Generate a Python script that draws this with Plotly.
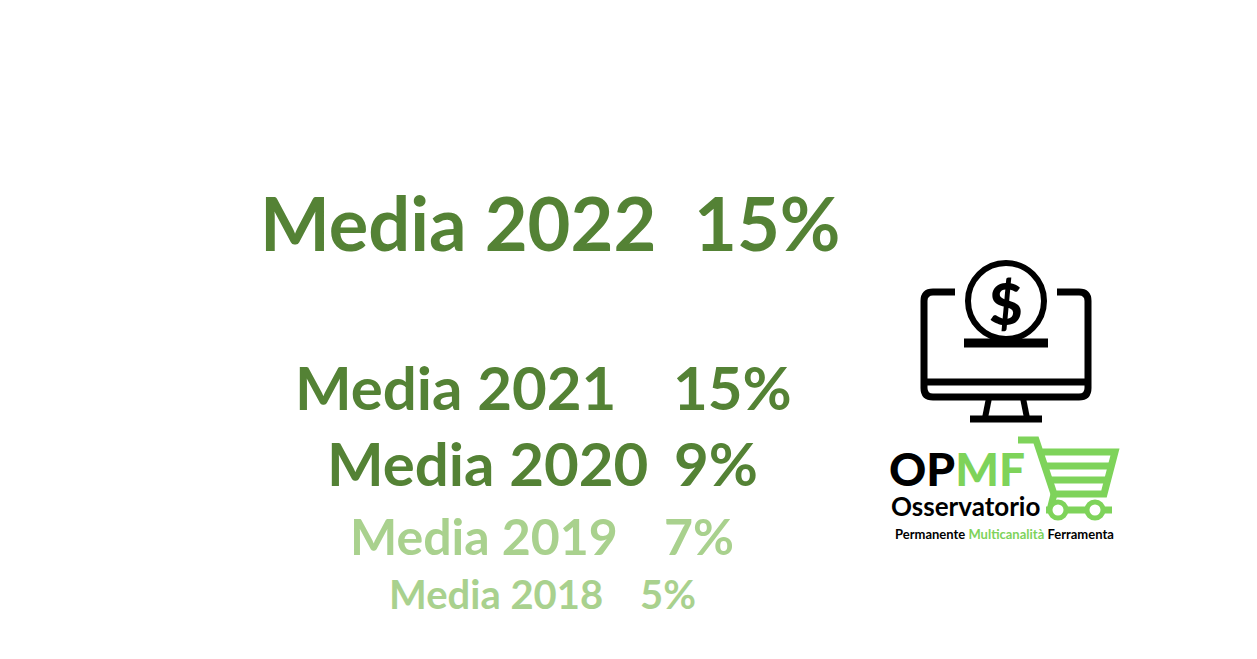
import plotly.graph_objects as go

# ---- data ----
years = [2022, 2021, 2020, 2019, 2018]
values = [15, 15, 9, 7, 5]
labels = [f"Media {y}" for y in years]
value_labels = [f"{v}%" for v in values]

# ---- layout / style (positions in screenshot pixel space) ----
W, H = 1257, 659
PAD = 8  # page body margin
DARK = "#548235"
LIGHT = "#A9D18E"
LOGO_GREEN = "#7ED35A"
FONT = "Lato"

label_x = [258, 293, 325, 348, 387]
value_x = [692, 671, 672, 662, 638]
row_y = [222, 387, 463, 536, 594]
sizes = [74, 60, 60, 50, 40]
colors = [DARK, DARK, DARK, LIGHT, LIGHT]

fig = go.Figure()
fig.add_trace(go.Scatter(x=[PAD, W - PAD], y=[PAD, H - PAD], mode="markers",
                         marker=dict(opacity=0), hoverinfo="skip", showlegend=False))

annotations = []
for lab, val, lx, vx, y, s, c in zip(labels, value_labels, label_x, value_x, row_y, sizes, colors):
    for txt, x in ((lab, lx), (val, vx)):
        annotations.append(dict(x=x, y=y, xref="x", yref="y", text=txt, showarrow=False,
                                xanchor="left", yanchor="middle",
                                font=dict(family=FONT, size=s, color=c, weight=700)))

# logo texts
annotations.append(dict(x=1006, y=302, xref="x", yref="y", text="$", showarrow=False,
                        xanchor="center", yanchor="middle",
                        font=dict(family=FONT, size=58, color="black", weight=900)))
annotations.append(dict(x=887, y=468, xref="x", yref="y",
                        text=f"OP<span style='color:{LOGO_GREEN}'>MF</span>", showarrow=False,
                        xanchor="left", yanchor="middle",
                        font=dict(family=FONT, size=46, color="black", weight=900)))
annotations.append(dict(x=889, y=506, xref="x", yref="y", text="Osservatorio", showarrow=False,
                        xanchor="left", yanchor="middle",
                        font=dict(family=FONT, size=26, color="black", weight=700)))
annotations.append(dict(x=893, y=534, xref="x", yref="y",
                        text=f"Permanente <span style='color:{LOGO_GREEN}'>Multicanalità</span> Ferramenta",
                        showarrow=False, xanchor="left", yanchor="middle",
                        font=dict(family=FONT, size=13, color="black", weight=700)))

shapes = []
blk = dict(color="black", width=7)
# monitor outline
shapes.append(dict(type="path", xref="x", yref="y",
                   path="M 955,292 L 933,292 Q 924,292 924,301 L 924,388 Q 924,397 933,397 "
                        "L 1079,397 Q 1088,397 1088,388 L 1088,301 Q 1088,292 1079,292 L 1057,292",
                   line=blk))
shapes.append(dict(type="line", xref="x", yref="y", x0=924, x1=1088, y0=382, y1=382, line=blk))
# coin
shapes.append(dict(type="circle", xref="x", yref="y", x0=968, x1=1044, y0=263, y1=339,
                   line=dict(color="black", width=6)))
shapes.append(dict(type="line", xref="x", yref="y", x0=964, x1=1048, y0=343, y1=343,
                   line=dict(color="black", width=9)))
# stand
shapes.append(dict(type="path", xref="x", yref="y", path="M 989,398 L 985,418", line=dict(color="black", width=6)))
shapes.append(dict(type="path", xref="x", yref="y", path="M 1023,398 L 1027,418", line=dict(color="black", width=6)))
shapes.append(dict(type="line", xref="x", yref="y", x0=970, x1=1042, y0=419, y1=419, line=blk))

# cart
g = dict(color=LOGO_GREEN, width=7)
shapes.append(dict(type="path", xref="x", yref="y",
                   path="M 1018,440 L 1036,440 L 1054,494 L 1104,494 L 1115,452 L 1040,452", line=g))
shapes.append(dict(type="line", xref="x", yref="y", x0=1044, x1=1112, y0=466, y1=466, line=g))
shapes.append(dict(type="line", xref="x", yref="y", x0=1049, x1=1108, y0=480, y1=480, line=g))
shapes.append(dict(type="line", xref="x", yref="y", x0=1054, x1=1050, y0=494, y1=510, line=g))
shapes.append(dict(type="line", xref="x", yref="y", x0=1046, x1=1112, y0=510, y1=510, line=g))
for cx in (1058, 1095):
    shapes.append(dict(type="circle", xref="x", yref="y", x0=cx - 8, x1=cx + 8, y0=502, y1=518,
                       fillcolor="white", line=dict(color=LOGO_GREEN, width=5)))

fig.update_layout(
    width=W - 2 * PAD, height=H - 2 * PAD, margin=dict(l=0, r=0, t=0, b=0),
    paper_bgcolor="white", plot_bgcolor="white",
    xaxis=dict(range=[PAD, W - PAD], visible=False, fixedrange=True),
    yaxis=dict(range=[H - PAD, PAD], visible=False, fixedrange=True),
    annotations=annotations, shapes=shapes, showlegend=False,
)
fig.write_html("out.html")
